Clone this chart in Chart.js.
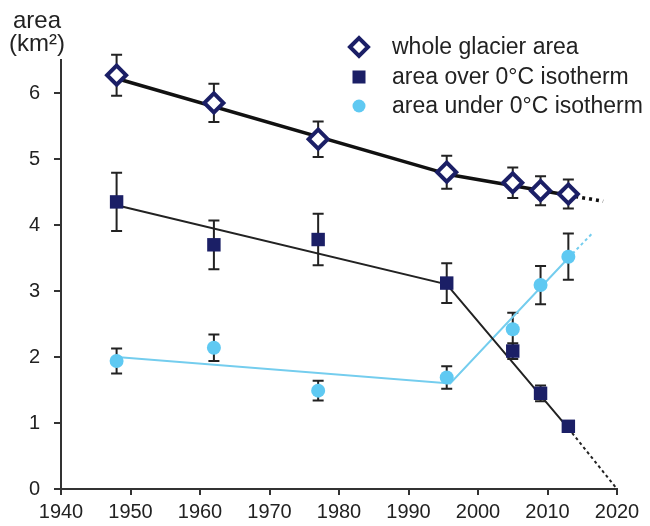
<!DOCTYPE html>
<html>
<head>
<meta charset="utf-8">
<script src="https://cdn.jsdelivr.net/npm/chart.js@4/dist/chart.umd.min.js"></script>
<style>
  html, body { margin: 0; padding: 0; background: #fff; }
  #wrap { width: 650px; height: 526px; position: relative; }
</style>
</head>
<body>
<div id="wrap"><canvas id="chart"></canvas></div>
<script>
// survey years and measured areas (km2) with error half-widths
const years = [1948, 1962, 1977, 1995.5, 2005, 2009, 2013];
const wholeArea = [6.27, 5.85, 5.30, 4.80, 4.64, 4.52, 4.47];
const wholeErr = [0.31, 0.29, 0.27, 0.25, 0.23, 0.22, 0.22];
const overArea = [4.35, 3.70, 3.78, 3.12, 2.09, 1.45, 0.95];
const overErr = [0.44, 0.37, 0.39, 0.30, 0.12, 0.12, 0.08];
const underArea = [1.94, 2.14, 1.49, 1.69, 2.42, 3.09, 3.52];
const underErr = [0.19, 0.20, 0.15, 0.17, 0.25, 0.29, 0.35];

// trend lines (solid part + dotted extrapolation)
const wholeFitX = [1948, 1996, 2013];
const wholeFitY = [6.22, 4.76, 4.45];
const wholeDotX = [2013, 2018];
const wholeDotY = [4.45, 4.36];
const overFitX = [1948, 1995.5, 2013];
const overFitY = [4.30, 3.10, 0.92];
const overDotX = [2013, 2020];
const overDotY = [0.92, 0.0];
const underFitX = [1948, 1996, 2013];
const underFitY = [2.00, 1.60, 3.50];
const underDotX = [2013, 2016.5];
const underDotY = [3.50, 3.88];

const xTicks = [1940, 1950, 1960, 1970, 1980, 1990, 2000, 2010, 2020];
const yTicks = [0, 1, 2, 3, 4, 5, 6];
const legendLabels = ['whole glacier area', 'area over 0°C isotherm', 'area under 0°C isotherm'];

const NAVY = '#1b1f66';
const SKY = '#5fc9f2';
const SKY_LINE = '#74cdee';
const INK = '#222';
const FONT = "'Liberation Sans', Arial, sans-serif";

function pts(xs, ys) { return xs.map(function(x, i) { return { x: x, y: ys[i] }; }); }

const errorBars = {
  id: 'errorBars',
  beforeDatasetsDraw(chart) {
    const ctx = chart.ctx, sx = chart.scales.x, sy = chart.scales.y;
    ctx.save();
    ctx.strokeStyle = INK;
    ctx.lineWidth = 2;
    [[wholeArea, wholeErr], [overArea, overErr], [underArea, underErr]].forEach(function(s) {
      s[0].forEach(function(v, i) {
        const px = sx.getPixelForValue(years[i]);
        const top = sy.getPixelForValue(v + s[1][i]);
        const bot = sy.getPixelForValue(v - s[1][i]);
        ctx.beginPath();
        ctx.moveTo(px, top); ctx.lineTo(px, bot);
        ctx.moveTo(px - 5.5, top); ctx.lineTo(px + 5.5, top);
        ctx.moveTo(px - 5.5, bot); ctx.lineTo(px + 5.5, bot);
        ctx.stroke();
      });
    });
    ctx.restore();
  }
};

const legendAndTitle = {
  id: 'legendAndTitle',
  afterDraw(chart) {
    const ctx = chart.ctx;
    ctx.save();
    // axis title
    ctx.fillStyle = INK;
    ctx.font = '24px ' + FONT;
    ctx.textAlign = 'center';
    ctx.textBaseline = 'alphabetic';
    ctx.fillText('area', 37, 28);
    ctx.fillText('(km²)', 37, 51);
    // legend
    const lx = 359, ly = [47, 77, 106];
    // diamond
    ctx.beginPath();
    ctx.moveTo(lx - 9, ly[0]); ctx.lineTo(lx, ly[0] - 9);
    ctx.lineTo(lx + 9, ly[0]); ctx.lineTo(lx, ly[0] + 9); ctx.closePath();
    ctx.fillStyle = '#fff'; ctx.fill();
    ctx.lineWidth = 4; ctx.strokeStyle = NAVY; ctx.stroke();
    // square
    ctx.fillStyle = NAVY;
    ctx.fillRect(lx - 6.5, ly[1] - 6.5, 13, 13);
    // circle
    ctx.beginPath();
    ctx.arc(lx, ly[2], 6.5, 0, Math.PI * 2);
    ctx.fillStyle = SKY; ctx.fill();
    ctx.fillStyle = INK;
    ctx.font = '23px ' + FONT;
    ctx.textAlign = 'left';
    ctx.textBaseline = 'middle';
    legendLabels.forEach(function(t, i) { ctx.fillText(t, 392, ly[i] + 1); });
    ctx.restore();
  }
};

Chart.defaults.font.family = FONT;
Chart.defaults.color = INK;

new Chart(document.getElementById('chart'), {
  type: 'scatter',
  data: {
    datasets: [
      { label: legendLabels[0], data: pts(years, wholeArea), pointStyle: 'rectRot', pointRadius: 9.5,
        pointBackgroundColor: '#fff', pointBorderColor: NAVY, pointBorderWidth: 4, showLine: false },
      { label: legendLabels[1], data: pts(years, overArea), pointStyle: 'rect', pointRadius: 9.5,
        pointBackgroundColor: NAVY, pointBorderColor: NAVY, pointBorderWidth: 0, showLine: false },
      { label: legendLabels[2], data: pts(years, underArea), pointStyle: 'circle', pointRadius: 7,
        pointBackgroundColor: SKY, pointBorderColor: SKY, pointBorderWidth: 0, showLine: false },
      { data: pts(wholeFitX, wholeFitY), showLine: true, borderColor: '#111', borderWidth: 3.5, pointRadius: 0 },
      { data: pts(wholeDotX, wholeDotY), showLine: true, borderColor: '#111', borderWidth: 3.5, borderDash: [3, 4], pointRadius: 0 },
      { data: pts(overFitX, overFitY), showLine: true, borderColor: INK, borderWidth: 2, pointRadius: 0 },
      { data: pts(overDotX, overDotY), showLine: true, borderColor: INK, borderWidth: 2, borderDash: [3, 3], pointRadius: 0 },
      { data: pts(underFitX, underFitY), showLine: true, borderColor: SKY_LINE, borderWidth: 2, pointRadius: 0 },
      { data: pts(underDotX, underDotY), showLine: true, borderColor: SKY_LINE, borderWidth: 2, borderDash: [3, 3], pointRadius: 0 }
    ]
  },
  options: {
    responsive: true,
    maintainAspectRatio: false,
    animation: false,
    layout: { padding: { left: 0, top: 60, right: 33, bottom: 0 } },
    plugins: {
      legend: { display: false },
      tooltip: { enabled: false }
    },
    scales: {
      x: {
        type: 'linear',
        min: 1940,
        max: 2020,
        afterBuildTicks: function(scale) { scale.ticks = xTicks.map(function(v) { return { value: v }; }); },
        afterFit: function(scale) { scale.height = 37; },
        border: { display: true, color: '#333', width: 2 },
        grid: { drawOnChartArea: false, drawTicks: true, tickLength: 6, color: '#333', lineWidth: 2 },
        ticks: { font: { size: 20 }, padding: 5, maxRotation: 0, callback: function(v) { return String(v); } }
      },
      y: {
        type: 'linear',
        min: 0,
        max: 6.5,
        afterBuildTicks: function(scale) { scale.ticks = yTicks.map(function(v) { return { value: v }; }); },
        afterFit: function(scale) { scale.width = 61; },
        border: { display: true, color: '#333', width: 2 },
        grid: { drawOnChartArea: false, drawTicks: true, tickLength: 7, color: '#333', lineWidth: 2 },
        ticks: { font: { size: 20 }, padding: 14 }
      }
    }
  },
  plugins: [errorBars, legendAndTitle]
});
</script>
</body>
</html>
